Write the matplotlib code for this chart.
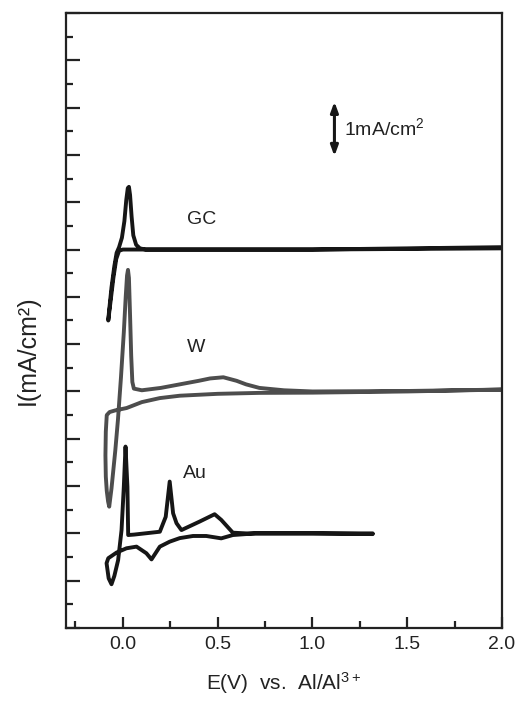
import matplotlib
matplotlib.use("Agg")
import matplotlib.pyplot as plt
from matplotlib.ticker import MultipleLocator

plt.rcParams['font.family'] = ['Liberation Sans', 'DejaVu Sans']
plt.rcParams['mathtext.fontset'] = 'custom'
plt.rcParams['mathtext.rm'] = 'Liberation Sans'
plt.rcParams['mathtext.it'] = 'Liberation Sans'

# Кривые ЦВА (потенциал, ток в условных единицах со сдвигом)
gc_E = [2.0, 1.0, 0.3, 0.1, 0.0, -0.02, -0.035, -0.05, -0.065, -0.077,
        -0.074, -0.06, -0.045, -0.033, -0.02, -0.005, 0.008, 0.018, 0.026, 0.032,
        0.038, 0.046, 0.055, 0.07, 0.09, 0.12, 0.5, 1.0, 2.0]
gc_I = [16.05, 16.0, 16.0, 16.0, 16.0, 15.95, 15.6, 14.8, 13.8, 13.0,
        13.3, 14.4, 15.3, 15.86, 16.1, 16.5, 17.2, 18.1, 18.6, 18.65,
        18.3, 17.4, 16.6, 16.2, 16.05, 16.0, 16.0, 16.0, 16.1]

w_E = [2.0, 1.5, 1.0, 0.72, 0.5, 0.3, 0.195, 0.1, 0.02, -0.04, -0.07, -0.085,
       -0.09, -0.092, -0.09, -0.085, -0.078, -0.072,
       -0.06, -0.04, -0.026, -0.01, 0.005, 0.015, 0.022, 0.027, 0.032, 0.038,
       0.044, 0.05, 0.058, 0.1, 0.2, 0.3, 0.4, 0.46, 0.53, 0.6, 0.65, 0.72,
       0.85, 1.0, 1.5, 2.0]
w_I = [10.08, 10.0, 9.95, 9.94, 9.9, 9.82, 9.72, 9.55, 9.3, 9.2, 9.13, 9.0,
       8.3, 7.3, 6.4, 5.8, 5.35, 5.13,
       5.9, 7.5, 8.8, 10.6, 12.5, 14.0, 14.9, 15.14, 14.8, 13.2,
       11.5, 10.4, 10.12, 10.05, 10.15, 10.3, 10.45, 10.55, 10.6, 10.45, 10.3, 10.15,
       10.05, 10.0, 10.02, 10.08]

au_E = [1.318, 1.0, 0.7, 0.58, 0.519, 0.44, 0.37, 0.3, 0.247, 0.195, 0.151,
        0.124, 0.072, 0.019, -0.033, -0.077, -0.086, -0.075, -0.06,
        -0.045, -0.025, -0.007, 0.005, 0.014, 0.024, 0.028, 0.06, 0.195,
        0.226, 0.247, 0.265, 0.283, 0.309, 0.405, 0.484, 0.519, 0.58, 0.65,
        1.0, 1.318]
au_I = [3.97, 4.0, 4.0, 3.93, 3.79, 3.89, 3.89, 3.8, 3.65, 3.44, 2.9,
        3.16, 3.44, 3.37, 3.19, 2.95, 2.74, 2.1, 1.85,
        2.2, 2.87, 4.14, 5.97, 7.67, 5.97, 3.93, 3.95, 4.07,
        4.7, 6.19, 4.85, 4.43, 4.14, 4.5, 4.81, 4.57, 4.03, 4.0,
        4.0, 4.0]

x_ticks = [0.0, 0.5, 1.0, 1.5, 2.0]
x_tick_labels = ['0.0', '0.5', '1.0', '1.5', '2.0']

fig = plt.figure(figsize=(5.17, 7.11), dpi=100)
ax = fig.add_axes([66 / 517, 83 / 711, 436 / 517, 615 / 711])

ax.plot(gc_E, gc_I, color='#161616', lw=2.8, solid_joinstyle='round', solid_capstyle='round')
ax.plot(w_E, w_I, color='#4d4d4d', lw=2.8, solid_joinstyle='round', solid_capstyle='round')
ax.plot(au_E, au_I, color='#161616', lw=2.8, solid_joinstyle='round', solid_capstyle='round')

ax.set_xlim(-0.3, 2.0)
ax.set_ylim(0, 26)

ax.set_xticks(x_ticks)
ax.set_xticklabels(x_tick_labels)
ax.xaxis.set_minor_locator(MultipleLocator(0.25))
ax.yaxis.set_major_locator(MultipleLocator(2))
ax.yaxis.set_minor_locator(MultipleLocator(1))
ax.set_yticklabels([])

ax.tick_params(axis='both', which='both', direction='in', top=False, right=False,
               color='#222222', width=1.6)
ax.tick_params(axis='y', which='major', length=10)
ax.tick_params(axis='y', which='minor', length=5)
ax.tick_params(axis='x', which='major', length=8, labelsize=14, pad=6, labelcolor='#222222')
ax.tick_params(axis='x', which='minor', length=5)

for sp in ax.spines.values():
    sp.set_linewidth(1.6)
    sp.set_color('#222222')

# Подписи кривых
ax.text(0.416, 17.25, 'GC', fontsize=14, ha='center', va='center', color='#222222')
ax.text(0.384, 11.84, 'W', fontsize=14, ha='center', va='center', color='#222222')
ax.text(0.38, 6.55, 'Au', fontsize=14, ha='center', va='center', color='#222222')

# Масштабная стрелка
ax.annotate('', xy=(1.116, 22.25), xytext=(1.116, 19.95),
            arrowprops=dict(arrowstyle='<|-|>,head_length=0.6,head_width=0.22',
                            lw=2.2, color='#161616', shrinkA=0, shrinkB=0))
ax.text(1.168, 21.14, '1mA/cm$^2$', fontsize=14, ha='left', va='center', color='#222222')

fig.text(284 / 517, 1 - 683 / 711, 'E(V)  vs.  Al/Al$^{3+}$', fontsize=15,
         ha='center', va='center', color='#222222')
fig.text(28 / 517, 1 - 350 / 711, 'I(mA/cm²)', fontsize=18, rotation=90,
         ha='center', va='center', color='#222222')

plt.savefig('out.png', dpi=100)
plt.close()
